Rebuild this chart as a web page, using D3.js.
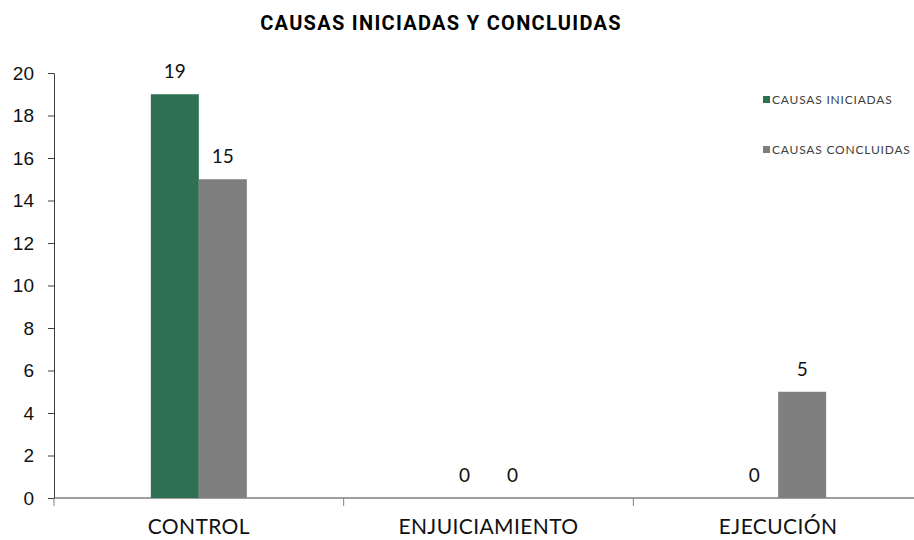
<!DOCTYPE html>
<html>
<head>
<meta charset="utf-8">
<script src="https://cdn.jsdelivr.net/npm/d3@7"></script>
<style>
  body { margin: 0; background: #fff; }
  svg { display: block; font-family: "Lato", "DejaVu Sans", sans-serif; }
</style>
</head>
<body>
<div id="chart"></div>
<script>
// chart data
const categories = ["CONTROL", "ENJUICIAMIENTO", "EJECUCIÓN"];
const seriesNames = ["CAUSAS INICIADAS", "CAUSAS CONCLUIDAS"];
const iniciadas = [19, 0, 0];
const concluidas = [15, 0, 5];
const yTicks = [0, 2, 4, 6, 8, 10, 12, 14, 16, 18, 20];
const colors = ["#2E7152", "#7F7F7F"];

const width = 914, height = 540;
const margin = {top: 73, right: -9, bottom: 42, left: 54};

const svg = d3.select("#chart").append("svg")
    .attr("width", width)
    .attr("height", height);

const x0 = d3.scaleBand()
    .domain(categories)
    .range([margin.left, width - margin.right])
    .paddingInner(0).paddingOuter(0);

const barW = 48;
const x1 = d3.scaleBand()
    .domain(seriesNames)
    .range([x0.bandwidth() / 2 - barW, x0.bandwidth() / 2 + barW]);

const y = d3.scaleLinear()
    .domain([0, 20])
    .range([height - margin.bottom, margin.top]);

// title
svg.append("text")
    .attr("x", 441).attr("y", 30)
    .attr("text-anchor", "middle")
    .style("font-family", "Roboto, sans-serif")
    .style("font-weight", "bold")
    .style("font-size", "20px")
    .style("letter-spacing", "1.3px")
    .text("CAUSAS INICIADAS Y CONCLUIDAS");

// y axis
const yAxis = svg.append("g")
    .attr("transform", `translate(${margin.left},0)`)
    .call(d3.axisLeft(y).tickValues(yTicks).tickSize(6).tickPadding(14));
yAxis.select(".domain").attr("stroke", "#404040");
yAxis.selectAll(".tick line").attr("stroke", "#404040");
yAxis.selectAll("text").style("font-size", "19px").attr("fill", "#111");

// x axis
const xAxis = svg.append("g")
    .attr("transform", `translate(0,${y(0)})`);
xAxis.append("line")
    .attr("x1", margin.left).attr("x2", width)
    .attr("stroke", "#404040");
const boundaries = categories.map(c => x0(c));
xAxis.selectAll(".sep")
    .data(boundaries)
    .enter().append("line")
    .attr("x1", d => d).attr("x2", d => d)
    .attr("y1", 0).attr("y2", 8)
    .attr("stroke", "#808080");
xAxis.selectAll(".cat")
    .data(categories)
    .enter().append("text")
    .attr("x", d => x0(d) + x0.bandwidth() / 2)
    .attr("y", 36)
    .attr("text-anchor", "middle")
    .attr("fill", "#111")
    .style("font-size", "21px")
    .style("letter-spacing", "0.4px")
    .text(d => d);

// bars
const rows = categories.map((c, i) => ({
    cat: c,
    vals: [iniciadas[i], concluidas[i]]
}));

const groups = svg.selectAll(".grp")
    .data(rows)
    .enter().append("g")
    .attr("transform", d => `translate(${x0(d.cat)},0)`);

groups.selectAll("rect")
    .data(d => d.vals.map((v, j) => ({name: seriesNames[j], v: v, j: j})))
    .enter().append("rect")
    .attr("x", d => x1(d.name))
    .attr("y", d => y(d.v))
    .attr("width", x1.bandwidth())
    .attr("height", d => y(0) - y(d.v))
    .attr("fill", d => colors[d.j]);

groups.selectAll(".val")
    .data(d => d.vals.map((v, j) => ({name: seriesNames[j], v: v})))
    .enter().append("text")
    .attr("x", d => x1(d.name) + x1.bandwidth() / 2)
    .attr("y", d => y(d.v) - 16)
    .attr("text-anchor", "middle")
    .attr("fill", "#111")
    .style("font-size", "19px")
    .text(d => d.v);

// legend
const legend = svg.append("g")
    .attr("transform", "translate(763,100)");
seriesNames.forEach((s, i) => {
    const g = legend.append("g").attr("transform", `translate(0,${i * 50})`);
    g.append("rect")
        .attr("x", 0).attr("y", -4)
        .attr("width", 7).attr("height", 7)
        .attr("fill", colors[i]);
    g.append("text")
        .attr("x", 9).attr("y", 4)
        .style("font-size", "12px")
        .style("letter-spacing", "0.8px")
        .attr("fill", "#404040")
        .text(s);
});
</script>
</body>
</html>
